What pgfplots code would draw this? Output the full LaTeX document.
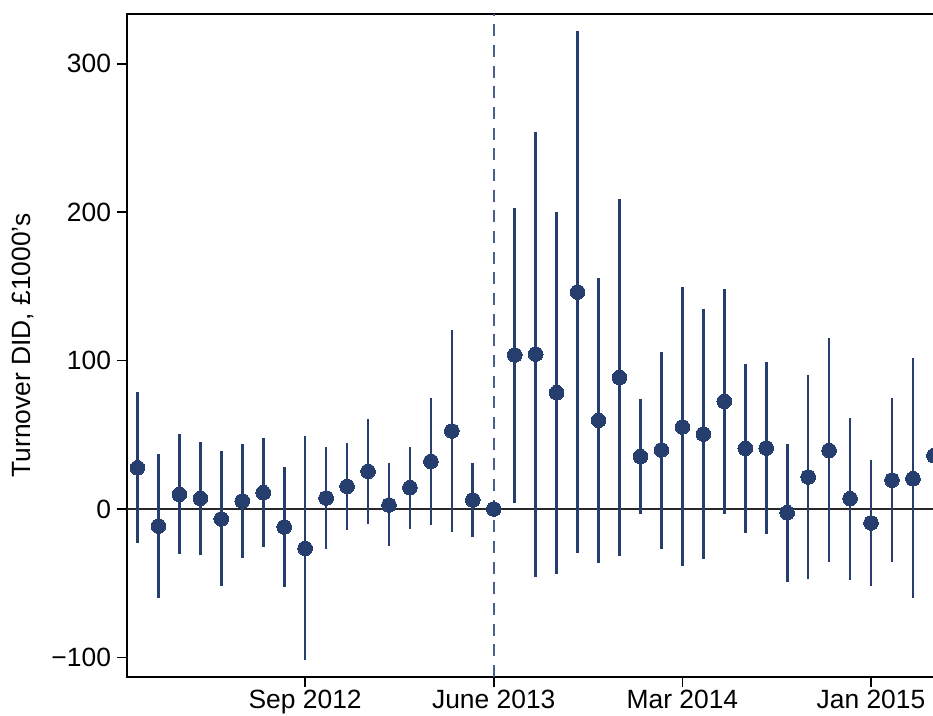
\documentclass[border=0pt]{standalone}
\usepackage{pgfplots}
\pgfplotsset{compat=1.18}
\usepackage{pgfplotstable}
\usepackage{fontspec}
\setmainfont{Liberation Sans}
\definecolor{navyc}{RGB}{38,62,110}
\definecolor{dashc}{RGB}{70,95,140}
\definecolor{zeroc}{RGB}{40,40,40}

% x  y  ep(plus)  em(minus)
\pgfplotstableread{
x y ep em
0 27.8 50.8 50.5
1 -11.5 48.3 48.5
2 9.9 40.4 40.4
3 7.2 38.2 38.2
4 -6.7 45.6 45.2
5 5.4 38.4 38.2
6 11.0 36.6 36.8
7 -12.1 40.6 40.7
8 -26.5 75.9 75.5
9 7.4 34.2 34.6
10 15.3 29.4 29.7
11 25.4 35.0 35.3
12 2.7 28.1 27.8
13 14.4 27.4 27.7
14 32.1 42.5 42.9
15 52.6 68.0 68.3
16 6.1 24.7 24.7
17 0 0 0
18 103.8 99.2 99.5
19 104.4 149.9 150.2
20 78.4 121.7 122.0
21 146.2 176.1 175.6
22 59.8 96.1 96.2
23 88.7 120.0 120.2
24 35.3 38.6 38.9
25 39.8 66.2 66.8
26 55.3 94.1 93.9
27 50.5 84.1 84.0
28 72.6 75.6 76.2
29 40.9 56.6 56.9
30 41.1 57.7 57.9
31 -2.5 46.1 46.5
32 21.6 68.7 69.0
33 39.5 75.5 75.4
34 7.0 54.5 54.8
35 -9.4 42.6 42.7
36 19.5 55.5 55.2
37 20.4 81.1 80.6
38 35.9 91.5 90.5
}\datatable

\begin{document}
\begin{tikzpicture}
\path[use as bounding box, clip] (0,0) rectangle (699.75pt,536.25pt);
\begin{axis}[
  at={(95.25pt,28.5pt)}, anchor=south west,
  scale only axis,
  width=636.6pt, height=497.25pt,
  xmin=-0.5, xmax=40,
  ymin=-113.2, ymax=333.6,
  axis line style={line width=1.6pt, black},
  tick style={line width=1.3pt, black},
  tick align=outside,
  major tick length=7.5pt,
  xtick={8,17,26,35},
  xticklabels={Sep 2012,June 2013,Mar 2014,Jan 2015},
  ytick={-100,0,100,200,300},
  yticklabels={−100,0,100,200,300},
  xtick pos=bottom, ytick pos=left,
  every tick label/.append style={font=\fontsize{19.8}{23}\selectfont},
  xticklabel style={yshift=1pt},
  yticklabel style={xshift=-1pt},
  ylabel={Turnover DID, £1000’s},
  every axis y label/.style={at={(rel axis cs:0,0.5)}, xshift=-78pt, anchor=center, rotate=90, font=\fontsize{19.8}{23}\selectfont},
  clip=false,
]
\addplot[zeroc, line width=1.5pt, forget plot] coordinates {(-0.5,0) (40,0)};
\addplot[dashc, line width=1.3pt, dash pattern=on 9pt off 6.5pt, forget plot] coordinates {(17,-113.2) (17,333.6)};
\addplot[draw=none, mark=none, forget plot,
  error bars/.cd, y dir=both, y explicit, error mark=none,
  error bar style={draw=navyc, line width=2pt, solid}]
  table[x=x, y=y, y error plus=ep, y error minus=em] {\datatable};
\addplot[only marks, mark=*, mark size=5.5pt, mark options={fill=navyc, draw=navyc, line width=0pt}]
  table[x=x, y=y] {\datatable};
\end{axis}
\end{tikzpicture}
\end{document}
